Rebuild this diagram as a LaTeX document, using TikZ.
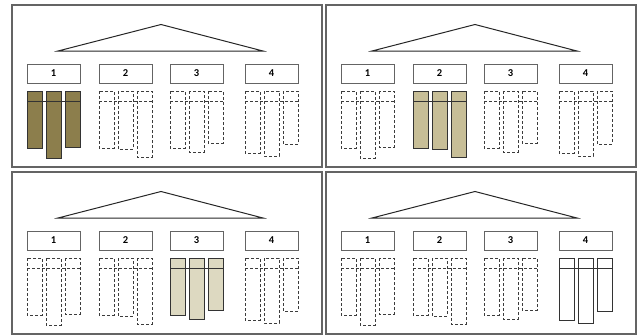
\documentclass[tikz,border=0pt]{standalone}
\usepackage{fontspec}
\setmainfont{Carlito}
\definecolor{oliveA}{RGB}{140,126,76}
\definecolor{oliveB}{RGB}{199,190,151}
\definecolor{oliveC}{RGB}{221,217,193}
\definecolor{edgegray}{RGB}{100,100,100}
\definecolor{dashgray}{RGB}{60,60,60}
\tikzset{
  panelborder/.style={draw=edgegray,line width=1.5pt},
  roof/.style={draw=black!85,line width=1pt,line join=miter},
  numbox/.style={draw=edgegray,line width=0.9pt,fill=white,minimum width=53pt,minimum height=19pt,inner sep=0pt,font=\fontsize{10.5}{12}\selectfont\bfseries},
  solidcol/.style={draw=black!80,line width=0.8pt},
  dashcol/.style={draw=dashgray,line width=0.8pt,dash pattern=on 3pt off 2pt},
}
\newcommand\drawpanel[5]{%
  \begin{scope}[shift={(#1,#2)}]
    \draw[panelborder] (0,0) rectangle (310,162);
    \draw[roof] (46,46) -- (149,19.5) -- (251,46) -- cycle;
    \foreach \g/\gx/\ba/\bb/\bc in {1/15/143/153/142,2/87/143/144/152,3/158/143/147/138,4/233/148/151/139}{
      \node[numbox] (#3box\g) at (\gx+26.5,68.5) {\g};
      \ifnum\g=#4\relax
        \draw[solidcol,fill=#5] (\gx,86) rectangle (\gx+15,\ba);
        \draw[solidcol,fill=#5] (\gx+19,86) rectangle (\gx+34,\bb);
        \draw[solidcol,fill=#5] (\gx+38,86) rectangle (\gx+53,\bc);
        \draw[solidcol] (\gx,96) -- (\gx+53,96);
      \else
        \draw[dashcol] (\gx,86) rectangle (\gx+15,\ba);
        \draw[dashcol] (\gx+19,86) rectangle (\gx+34,\bb);
        \draw[dashcol] (\gx+38,86) rectangle (\gx+53,\bc);
        \draw[dashcol] (\gx,96) -- (\gx+53,96);
      \fi
    }
  \end{scope}}
\begin{document}
\begin{tikzpicture}[x=1pt,y=-1pt]
  \useasboundingbox (0,0) rectangle (641,335);
  \drawpanel{12}{5}{pa}{1}{oliveA}
  \drawpanel{326}{5}{pb}{2}{oliveB}
  \drawpanel{12}{172}{pc}{3}{oliveC}
  \drawpanel{326}{172}{pd}{4}{white}
\end{tikzpicture}
\end{document}
